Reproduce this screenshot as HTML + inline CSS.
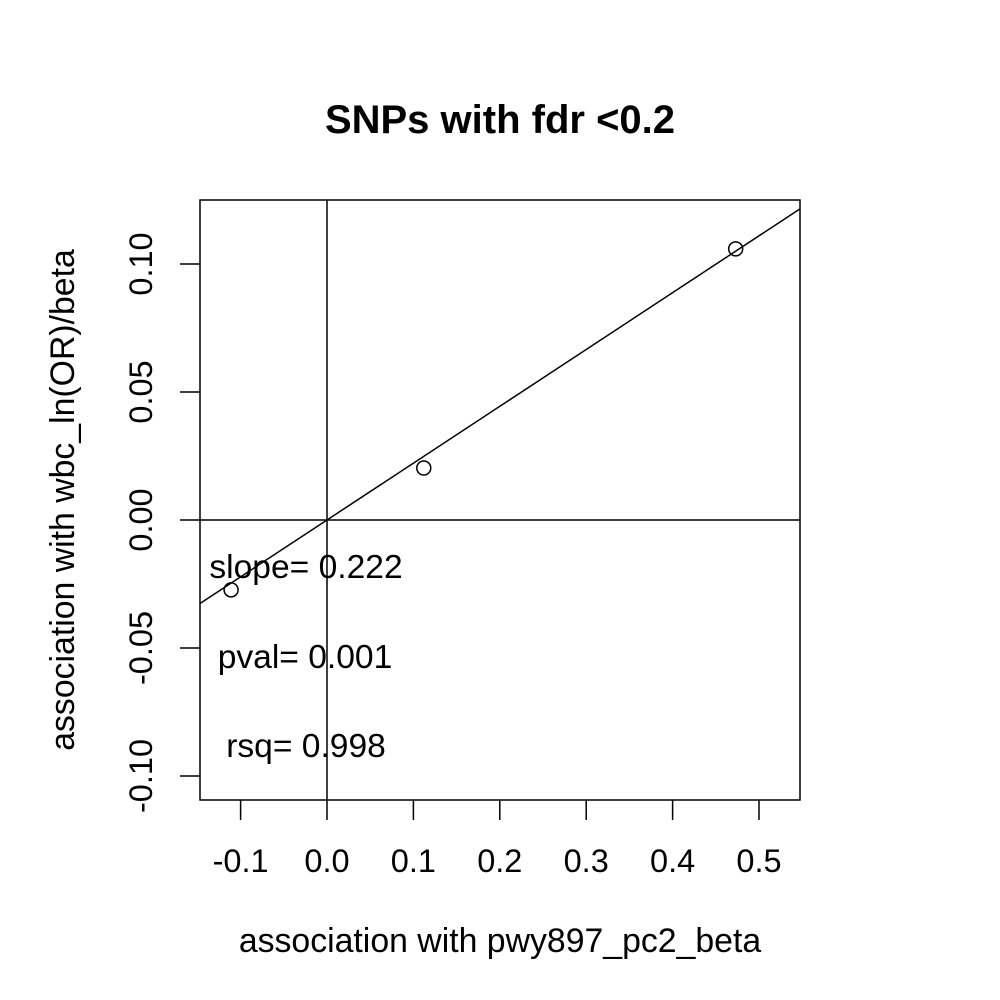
<!DOCTYPE html>
<html><head><meta charset="utf-8"><style>
body{margin:0;background:#fff}
svg{display:block;font-family:"Liberation Sans",Arial,sans-serif}
</style></head><body>
<svg id="chart" width="1000" height="1000" xmlns="http://www.w3.org/2000/svg">
<rect width="1000" height="1000" fill="#fff"/>
<text x="500" y="133" text-anchor="middle" font-size="40" font-weight="bold">SNPs with fdr &lt;0.2</text>
<text x="500" y="952" text-anchor="middle" font-size="33.8">association with pwy897_pc2_beta</text>
<text transform="translate(74,500) rotate(-90)" text-anchor="middle" font-size="33.8">association with wbc_ln(OR)/beta</text>
<g id="plot"></g>
</svg>
<script>
const xTicks=[-0.1,0.0,0.1,0.2,0.3,0.4,0.5];
const xTickLabels=["-0.1","0.0","0.1","0.2","0.3","0.4","0.5"];
const yTicks=[-0.10,-0.05,0.00,0.05,0.10];
const yTickLabels=["-0.10","-0.05","0.00","0.05","0.10"];
const xVals=[-0.111,0.112,0.473];
const yVals=[-0.0273,0.0203,0.1059];
const slope=0.222;
const statLabels=["slope= 0.222","pval= 0.001","rsq= 0.998"];

const NS="http://www.w3.org/2000/svg";
const L=200,R=800,T=200,B=800;
const xs=v=>327+v*864;
const ys=v=>520-v*2560;
const xmin=(L-327)/864,xmax=(R-327)/864;
const g=document.getElementById('plot');
function mk(t,a){const e=document.createElementNS(NS,t);for(const k in a)e.setAttribute(k,a[k]);g.appendChild(e);return e;}

let e=mk('rect',{x:L,y:T,width:R-L,height:B-T,fill:'none',stroke:'#000','stroke-width':1.5});


e=mk('line',{x1:L,x2:R,y1:ys(0),y2:ys(0),stroke:'#000','stroke-width':1.5});


e=mk('line',{x1:xs(0),x2:xs(0),y1:T,y2:B,stroke:'#000','stroke-width':1.5});



xTicks.forEach((v,i)=>{
 let t=mk('line',{x1:xs(v),x2:xs(v),y1:B,y2:B+20,stroke:'#000','stroke-width':1.5});
 
 
 let l=mk('text',{x:xs(v),y:872,'text-anchor':'middle','font-size':32.5});
 l.textContent=xTickLabels[i];
 
 
});
yTicks.forEach((v,i)=>{
 let t=mk('line',{x1:L-20,x2:L,y1:ys(v),y2:ys(v),stroke:'#000','stroke-width':1.5});
 
 
 let l=mk('text',{transform:`translate(152,${ys(v)}) rotate(-90)`,'text-anchor':'middle','font-size':32.5});
 l.textContent=yTickLabels[i];
 
 
});

let f=mk('line',{x1:L,y1:ys(slope*xmin),x2:R,y2:ys(slope*xmax),stroke:'#000','stroke-width':1.5});



xVals.forEach((v,i)=>{
 let c=mk('circle',{cx:xs(v),cy:ys(yVals[i]),r:7,fill:'none',stroke:'#000','stroke-width':1.5});
 
 
});

const sx=[306,305,306],sy=[578,668,757];
statLabels.forEach((s,i)=>{
 let l=mk('text',{x:sx[i],y:sy[i],'text-anchor':'middle','font-size':33.6});
 l.textContent=s;
 
 
});
</script>
</body></html>
